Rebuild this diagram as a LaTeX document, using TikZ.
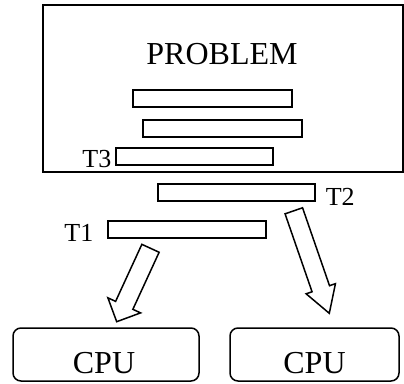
\documentclass[tikz,border=0pt]{standalone}
\usepackage{fontspec}
\setmainfont{Liberation Serif}
\usetikzlibrary{calc}
\begin{document}
\begin{tikzpicture}[x=1pt,y=-1pt,line width=1.5pt,
  bar/.style={draw,rectangle,inner sep=0,outer sep=0,minimum width=158pt,minimum height=17pt},
  big/.style={font=\fontsize{32}{36}\selectfont},
  lbl/.style={font=\fontsize{26}{30}\selectfont,inner sep=0},
  cpubox/.style={draw,rectangle,rounded corners=8pt,inner sep=0,minimum height=53pt}]
\useasboundingbox (0,0) rectangle (404,383);
% problem box
\node[draw,rectangle,inner sep=0,minimum width=360pt,minimum height=167pt] (prob) at (223,88.5) {};
\node[big,anchor=base,inner sep=0] (ptext) at (222,64) {PROBLEM};
% bars
\node[bar,minimum width=159pt] (b1) at (212.5,98.5) {};
\node[bar,minimum width=159pt] (b2) at (222.5,128.5) {};
\node[bar,minimum width=157pt] (b3) at (194.5,156.5) {};
\node[bar,minimum width=157pt] (t2) at (236.5,192.5) {};
\node[bar,minimum width=158pt] (t1) at (187,229.5) {};
% labels
\node[lbl,anchor=base east] (lt3) at (112,167.3) {T3};
\node[lbl,anchor=base west] (lt2) at (325,205) {T2};
\node[lbl,anchor=base east] (lt1) at (94,241.7) {T1};
% CPUs
\node[cpubox,minimum width=186pt] (c1) at (106,354.5) {};
\node[cpubox,minimum width=169pt] (c2) at (314.5,354.5) {};
\node[big,anchor=base,inner sep=0] (c1t) at (104,373) {CPU};
\node[big,anchor=base,inner sep=0] (c2t) at (314.5,373) {CPU};
% block arrows
\newcommand{\blockarrow}[5]{%
  \coordinate (BT) at #1; \coordinate (BP) at #2;
  \coordinate (BB) at ($(BP)!#5!(BT)$);
  \draw[line join=miter] ($(BT)!#3/2!90:(BP)$) -- ($(BB)!#3/2!-90:(BT)$) -- ($(BB)!#4/2!-90:(BT)$) -- (BP)
    -- ($(BB)!#4/2!90:(BT)$) -- ($(BB)!#3/2!90:(BT)$) -- ($(BT)!#3/2!-90:(BP)$) -- cycle;}
\blockarrow{(150.5,248.3)}{(116.7,321.7)}{19pt}{36pt}{18pt}
\blockarrow{(293.8,210.8)}{(329.3,313.3)}{18.5pt}{31pt}{26pt}
\end{tikzpicture}
\end{document}
